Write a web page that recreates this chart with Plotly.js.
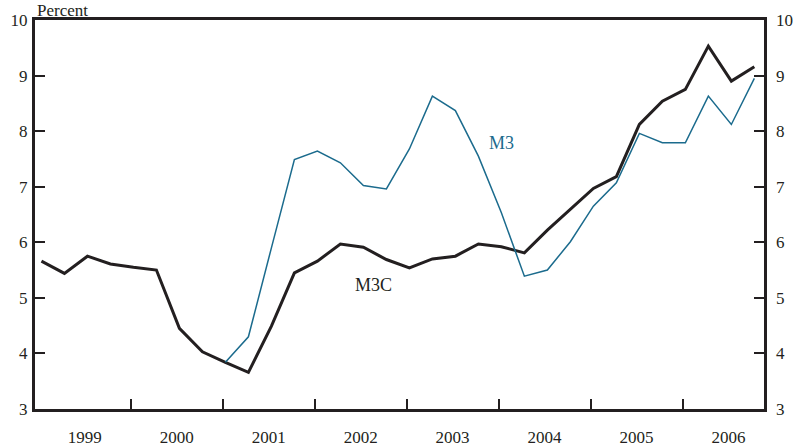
<!DOCTYPE html>
<html>
<head>
<meta charset="utf-8">
<script src="https://cdn.plot.ly/plotly-3.0.1.min.js"></script>
<style>html,body{margin:0;padding:0;background:#fff;}#chart{width:795px;height:447px;}</style>
</head>
<body>
<div id="chart"></div>
<script>
// Quarterly dates (decimal years), 1999Q1 .. 2006Q4
const years = [1999, 2000, 2001, 2002, 2003, 2004, 2005, 2006];
const quarters = [1, 2, 3, 4];
const dates = [];
years.forEach(y => quarters.forEach(q => dates.push(y + (q - 1) / 4 + 0.03)));

// M3C growth, percent
const m3c = [5.66, 5.44, 5.75, 5.61, 5.55, 5.50, 4.45, 4.03,
             3.84, 3.66, 4.49, 5.45, 5.66, 5.97, 5.91, 5.69,
             5.54, 5.70, 5.75, 5.97, 5.92, 5.81, 6.22, 6.60,
             6.97, 7.18, 8.12, 8.54, 8.75, 9.53, 8.90, 9.16];

// M3 growth, percent (from 2001Q1)
const m3Dates = dates.slice(8);
const m3 = [3.84, 4.30, 5.90, 7.49, 7.64, 7.43, 7.02, 6.96,
            7.68, 8.63, 8.37, 7.55, 6.53, 5.39, 5.50, 6.01,
            6.65, 7.07, 7.96, 7.79, 7.79, 8.63, 8.12, 8.95];

const yearTicks = [2000, 2001, 2002, 2003, 2004, 2005, 2006];
const yearLabelPos = years.map(y => y + 0.5);
const yearLabels = years.map(String);
const yTicks = [3, 4, 5, 6, 7, 8, 9, 10];

const ink = '#231f20';
const teal = '#1b6b8d';
const fontFam = '"Liberation Serif", "DejaVu Serif", serif';
const xRange = [1998.96, 2006.885];
const yRange = [3, 10];

const traces = [
  {x: m3Dates, y: m3, xaxis: 'x2', yaxis: 'y2', mode: 'lines', name: 'M3',
   line: {color: teal, width: 1.5}, hoverinfo: 'skip'},
  {x: dates, y: m3c, xaxis: 'x', yaxis: 'y', mode: 'lines', name: 'M3C',
   line: {color: ink, width: 3}, hoverinfo: 'skip'}
];

const layout = {
  width: 795, height: 447,
  margin: {l: 35, r: 31, t: 20, b: 38},
  paper_bgcolor: '#fff', plot_bgcolor: '#fff',
  showlegend: false,
  font: {family: fontFam, size: 17, color: ink},
  xaxis: {
    range: xRange, tickmode: 'array', tickvals: yearLabelPos, ticktext: yearLabels,
    ticks: '', showgrid: false, zeroline: false,
    showline: true, linecolor: ink, linewidth: 3, mirror: true,
    tickfont: {family: fontFam, size: 17, color: ink}, ticklabelstandoff: 11
  },
  xaxis2: {
    range: xRange, overlaying: 'x', side: 'bottom', tickmode: 'array', tickvals: yearTicks,
    ticks: 'inside', ticklen: 10, tickwidth: 2, tickcolor: ink,
    showticklabels: false, showgrid: false, zeroline: false, showline: false
  },
  yaxis: {
    range: yRange, tickmode: 'array', tickvals: yTicks,
    ticks: 'inside', ticklen: 10, tickwidth: 2, tickcolor: ink,
    showgrid: false, zeroline: false,
    showline: true, linecolor: ink, linewidth: 3, mirror: true,
    tickfont: {family: fontFam, size: 17, color: ink}, ticklabelstandoff: 1
  },
  yaxis2: {
    range: yRange, overlaying: 'y', side: 'right', tickmode: 'array', tickvals: yTicks,
    ticks: 'inside', ticklen: 10, tickwidth: 2, tickcolor: ink,
    showgrid: false, zeroline: false, showline: false,
    tickfont: {family: fontFam, size: 17, color: ink}, ticklabelstandoff: 11
  },
  annotations: [
    {text: 'Percent', xref: 'paper', yref: 'paper', x: 0, y: 1, xanchor: 'left', yanchor: 'bottom',
     yshift: -2, showarrow: false, font: {family: fontFam, size: 17, color: ink}},
    {text: 'M3', xref: 'x', yref: 'y', x: 2004.03, y: 7.78, showarrow: false,
     font: {family: fontFam, size: 18, color: teal}},
    {text: 'M3C', xref: 'x', yref: 'y', x: 2002.64, y: 5.23, showarrow: false,
     font: {family: fontFam, size: 18, color: ink}}
  ]
};

Plotly.newPlot('chart', traces, layout, {displayModeBar: false, staticPlot: true});
</script>
</body>
</html>
